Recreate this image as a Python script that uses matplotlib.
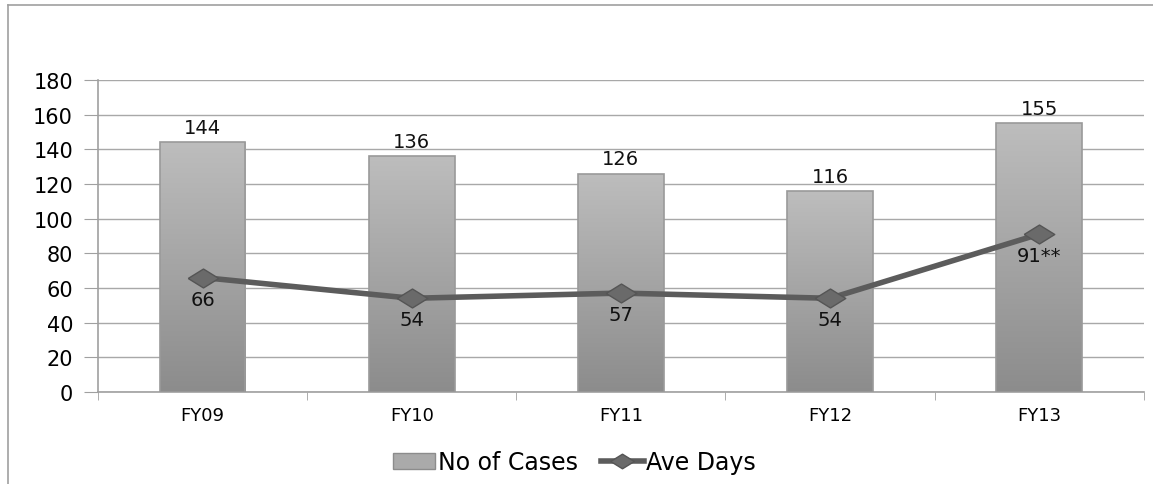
import numpy as np
import matplotlib
matplotlib.use("Agg")
import matplotlib.pyplot as plt
from matplotlib.lines import Line2D
from matplotlib.patches import Patch

years = ["FY09", "FY10", "FY11", "FY12", "FY13"]
cases = [144, 136, 126, 116, 155]
ave_days = [66, 54, 57, 54, 91]
day_labels = ["66", "54", "57", "54", "91**"]

fig = plt.figure(figsize=[11.53, 4.85], dpi=100)
ax = fig.add_axes([0.085, 0.19, 0.907, 0.643])

# frame around the chart area (top and left edges visible)
fig.add_artist(Line2D([0.007, 1.0], [0.988, 0.988], color="#a0a0a0", lw=1.2))
fig.add_artist(Line2D([0.007, 0.007], [0.0, 0.988], color="#a0a0a0", lw=1.2))

# flat diamond marker
diamond = [(-1, 0), (0, 0.62), (1, 0), (0, -0.62), (-1, 0)]

x = np.arange(len(years))
bars = ax.bar(x, cases, width=0.41, color="#aaaaaa", zorder=2)

# vertical gradient on each bar, light at top, darker at bottom
cmap = matplotlib.colors.LinearSegmentedColormap.from_list("g", ["#8c8c8c", "#bdbdbd"])
grad = np.linspace(0, 1, 256).reshape(-1, 1)
for b in bars:
    x0, y0 = b.get_x(), b.get_y()
    w, h = b.get_width(), b.get_height()
    im = ax.imshow(grad, cmap=cmap, aspect="auto", origin="lower",
                   extent=[x0, x0 + w, y0, y0 + h], zorder=3)
    im.set_clip_path(b)
    ax.bar(b.get_x() + w / 2, h, width=w, fill=False, edgecolor="#9a9a9a", lw=1.2, zorder=4)
    ax.text(x0 + w / 2, h + 3, str(int(h)), ha="center", va="bottom", fontsize=14, color="#111111")

ax.plot(x, ave_days, color="#5c5c5c", lw=4, marker=diamond, markersize=22,
        markerfacecolor="#6a6a6a", markeredgecolor="#555555", zorder=5)
for xi, v, lab in zip(x, ave_days, day_labels):
    ax.text(xi, v - 7, lab, ha="center", va="top", fontsize=14, color="#111111", zorder=6)

ax.set_xlim(-0.5, len(years) - 0.5)
ax.set_ylim(0, 180)
ax.set_yticks(range(0, 181, 20))
ax.tick_params(axis="y", labelsize=15, length=10, color="#a0a0a0", pad=8)
ax.set_xticks(x)
ax.set_xticklabels(years, fontsize=13)
ax.tick_params(axis="x", length=0, pad=10)
ax.set_xticks(np.arange(-0.5, len(years)), minor=True)
ax.tick_params(axis="x", which="minor", length=6, color="#a0a0a0")
ax.grid(axis="y", color="#a8a8a8", lw=1.0, zorder=0)
ax.set_axisbelow(True)
for s in ["top", "right"]:
    ax.spines[s].set_visible(False)
ax.spines["left"].set_color("#a0a0a0")
ax.spines["bottom"].set_color("#a0a0a0")
ax.spines["left"].set_linewidth(1.2)
ax.spines["bottom"].set_linewidth(1.2)

handles = [Patch(facecolor="#aaaaaa", edgecolor="#8c8c8c", label="No of Cases"),
           Line2D([0], [0], color="#5c5c5c", lw=4, marker=diamond, markersize=17,
                  markerfacecolor="#6a6a6a", markeredgecolor="#555555", label="Ave Days")]
fig.legend(handles=handles, loc="center", bbox_to_anchor=(0.498, 0.045), ncol=2,
           frameon=False, fontsize=17, handlelength=1.8, handletextpad=0.1,
           columnspacing=1.0)

fig.savefig("out.png", dpi=100)
